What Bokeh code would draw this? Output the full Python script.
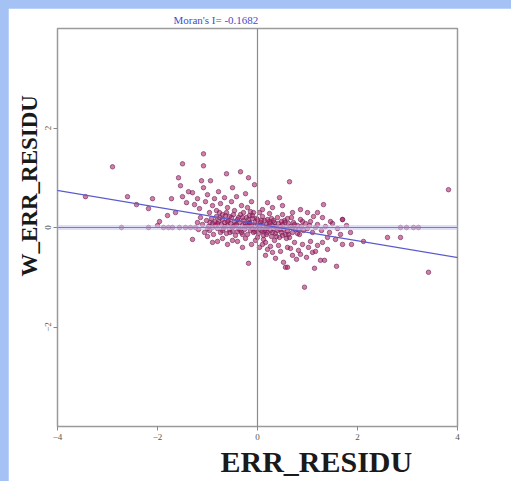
from bokeh.plotting import figure
from bokeh.models import Title, Span, Slope, FixedTicker, Range1d
from bokeh.embed import file_html
from bokeh.resources import INLINE

moran_i = -0.1682
intercept = 0.07

pts = [
    # upper-left scatter
    (-1.58,1.0),(-1.54,0.84),(-1.5,0.62),(-1.42,0.5),(-1.38,0.72),(-1.3,0.7),(-1.26,0.46),(-1.2,0.58),
    (-1.16,0.38),(-1.12,0.94),(-1.08,0.8),(-1.04,0.52),(-1.0,0.66),(-0.96,0.3),(-0.94,0.94),(-0.9,0.44),
    (-0.86,0.58),(-0.82,0.34),(-0.78,0.72),(-0.74,0.48),(-0.7,0.26),(-0.66,0.6),(-0.62,1.08),(-0.6,0.4),
    (-0.56,0.22),(-0.52,0.52),(-0.5,0.8),(-0.46,0.34),(-0.42,0.62),(-0.38,0.2),(-0.34,1.12),(-0.32,0.44),
    (-0.28,0.3),(-0.24,0.68),(-0.2,0.4),(-0.18,1.0),(-0.16,0.24),(-0.12,0.52),(-0.08,0.3),(-0.06,0.86),(-0.02,0.18),
    # core cluster
    (-1.2,0.1),(-1.18,-0.04),(-1.14,0.2),(-1.1,0.06),(-1.06,-0.1),(-1.02,0.14),(-0.98,0.02),(-0.96,-0.06),
    (-0.92,0.18),(-0.9,0.08),(-0.88,-0.14),(-0.84,0.04),(-0.82,0.22),(-0.8,-0.02),(-0.78,0.12),(-0.76,0.3),
    (-0.74,-0.1),(-0.72,0.06),(-0.7,0.16),(-0.68,-0.02),(-0.66,0.1),(-0.64,0.24),(-0.62,-0.12),(-0.6,0.04),
    (-0.58,0.14),(-0.56,-0.04),(-0.54,0.08),(-0.52,0.2),(-0.5,-0.08),(-0.48,0.02),(-0.46,0.12),(-0.44,-0.16),
    (-0.42,0.06),(-0.4,0.16),(-0.38,-0.02),(-0.36,0.1),(-0.34,0.26),(-0.32,-0.1),(-0.3,0.04),(-0.28,0.14),
    (-0.26,-0.04),(-0.24,0.08),(-0.22,0.2),(-0.2,-0.14),(-0.18,0.0),(-0.16,0.1),(-0.14,-0.06),(-0.12,0.04),
    (-0.1,0.18),(-0.08,-0.1),(-0.06,0.02),(-0.04,0.12),(-0.02,-0.04),(0.0,0.06),(0.02,-0.12),(0.04,0.0),
    (0.06,0.1),(0.08,-0.06),(0.1,0.04),(0.12,-0.16),(0.14,0.14),(0.16,-0.02),(0.18,0.06),(0.2,-0.1),
    (0.22,0.02),(0.24,0.12),(0.26,-0.06),(0.28,-0.18),(0.3,0.04),(0.32,-0.02),(0.34,0.1),(0.36,-0.12),
    (0.38,0.0),(0.4,-0.06),(0.42,0.08),(0.44,-0.2),(0.46,0.02),(0.48,-0.1),(0.5,0.06),(0.52,-0.04),
    (0.54,0.14),(0.56,-0.14),(0.58,0.0),(0.6,-0.08),(0.62,0.08),(0.64,-0.2),(0.66,0.02),(0.7,-0.1),
    (0.72,0.1),(0.76,-0.04),(0.8,0.04),(0.84,-0.14),(0.88,0.02),(0.92,-0.06),(0.96,0.08),(1.0,-0.02),
    (1.04,0.04),(1.1,-0.1),(1.16,0.0),
    (-1.0,-0.02),(-0.9,0.0),(-0.8,0.08),(-0.7,-0.06),(-0.6,0.12),(-0.5,0.0),(-0.4,-0.08),(-0.3,0.2),
    (-0.2,0.06),(-0.1,-0.02),(0.0,0.16),(0.0,-0.2),(0.1,0.22),(0.1,-0.08),(0.2,0.16),(0.2,0.0),
    (0.3,-0.1),(0.4,0.2),(0.5,-0.16),(0.6,0.18),(0.7,0.0),(0.8,-0.12),(0.9,0.12),(-0.14,0.32),
    (0.04,0.3),(0.24,0.28),(-0.04,-0.26),(0.16,-0.3),(0.34,-0.26),(0.5,0.26),(0.68,0.2),(0.86,0.16),
    (1.06,0.12),(1.2,0.06),(1.28,-0.06),(1.36,0.02),(1.44,-0.1),(1.5,0.08),(1.6,-0.02),(1.7,0.16),
    (1.78,0.04),(1.66,-0.14),(1.56,-0.24),(1.4,-0.2),(1.3,0.2),
    (-0.45,0.05),(-0.35,-0.05),(-0.25,0.02),(-0.15,0.08),(-0.05,-0.08),(0.05,0.04),(0.15,-0.06),(0.25,0.08),
    (0.35,0.02),(0.45,-0.04),(0.55,0.1),(-0.55,-0.1),(-0.65,0.02),(-0.75,0.2),(-0.85,0.12),(-0.95,0.1),
    (-0.3,-0.14),(-0.1,0.24),(0.08,0.14),(0.18,-0.14),(0.28,0.18),(0.38,-0.18),(0.48,0.12),(0.58,-0.22),
    (-0.62,0.3),(-0.48,0.26),(-0.18,0.16),(0.12,-0.24),(0.32,0.14),(0.62,-0.14),(0.74,0.06),(0.82,-0.04),
    # lower-right
    (0.04,-0.4),(0.1,-0.34),(0.16,-0.56),(0.2,-0.44),(0.26,-0.38),(0.3,-0.5),(0.36,-0.62),(0.42,-0.36),
    (0.46,-0.48),(0.52,-0.7),(0.56,-0.8),(0.6,-0.8),(0.6,-0.4),(0.66,-0.42),(0.7,-0.56),(0.74,-0.3),
    (0.78,-0.64),(0.82,-0.46),(0.86,-0.54),(0.9,-0.34),(0.94,-1.2),(0.98,-0.6),(1.02,-0.4),(1.06,-0.28),
    (1.1,-0.5),(1.14,-0.82),(1.16,-0.48),(1.2,-0.36),(1.26,-0.66),(1.3,-0.3),(1.34,-0.66),(1.4,-0.44),
    (1.58,-0.78),(1.7,-0.34),(1.86,-0.1),(1.88,-0.34),(2.12,-0.28),(2.6,-0.2),(2.86,-0.2),(3.42,-0.9),
    # upper-right
    (0.64,0.92),(1.32,0.46),(1.12,0.22),(1.7,0.16),(0.3,0.4),(0.5,0.44),(0.86,0.36),(0.2,0.5),
    (0.1,0.36),(1.0,0.3),(0.44,0.6),(0.7,0.3),(3.82,0.76),(1.46,0.12),(1.2,0.3),
    # lower-left
    (-1.3,-0.24),(-0.18,-0.72),(-0.9,-0.3),(-0.6,-0.34),(-0.4,-0.28),(-0.7,-0.22),(-1.0,-0.18),
    (-0.3,-0.4),(-0.5,-0.26),(-0.12,-0.34),(-0.8,-0.28),(-0.24,-0.22),
    # left outliers
    (-2.9,1.22),(-3.44,0.62),(-2.6,0.62),(-2.42,0.46),(-2.1,0.58),(-2.18,0.38),(-1.72,0.58),(-1.5,1.28),
    (-1.08,1.48),(-1.08,1.24),(-1.8,0.24),(-1.64,0.3),(-1.96,0.12),(-2.0,0.04),
    # zero row
    (-2.72,0.0),(-2.18,0.0),(-1.88,0.0),(-1.78,0.0),(-1.7,0.0),(-1.56,0.0),(-1.44,0.0),(-1.34,0.0),
    (-1.24,0.0),(2.86,0.0),(2.98,0.0),(3.12,0.0),(3.22,0.0),
]
err_residu = [a for a, b in pts]
w_err_residu = [b for a, b in pts]

x_ticks = [-4, -2, 0, 2, 4]
y_ticks = [-2, 0, 2]

p = figure(width=503, height=473, output_backend="svg", toolbar_location=None,
           x_range=Range1d(-4, 4), y_range=Range1d(-4, 4),
           min_border_left=49, min_border_right=54, min_border_top=20, min_border_bottom=55,
           background_fill_color="white", border_fill_color="white")
p.title = Title(text="Moran's I= -0.1682", align="left", offset=116,
                text_font_size="11px", text_color="#4a4acc", text_font="Liberation Serif",
                text_font_style="normal", standoff=6)
p.grid.visible = False
p.outline_line_color = "#9a9a9a"
p.outline_line_width = 1.5

for ax in (p.xaxis[0], p.yaxis[0]):
    ax.axis_line_color = None
    ax.major_tick_line_color = "#888888"
    ax.major_tick_out = 4
    ax.major_tick_in = 0
    ax.minor_tick_line_color = None
    ax.major_label_text_font = "Liberation Serif"
    ax.major_label_text_font_size = "9px"
    ax.major_label_text_color = "#555555"
    ax.major_label_standoff = 3
p.xaxis[0].ticker = FixedTicker(ticks=x_ticks)
p.yaxis[0].ticker = FixedTicker(ticks=y_ticks)
p.yaxis[0].major_label_orientation = "vertical"

p.add_layout(Span(location=0, dimension="width", line_color="#c8c8f2", line_width=5, line_alpha=0.6))
p.add_layout(Span(location=0, dimension="width", line_color="#7a7ac4", line_width=1))
p.add_layout(Span(location=0, dimension="height", line_color="#8a8a8a", line_width=1.2))
p.add_layout(Slope(gradient=moran_i, y_intercept=intercept, line_color="#5a5acc", line_width=1.2))

p.scatter(err_residu, w_err_residu, marker="circle", size=4.5,
          fill_color="#b0145e", fill_alpha=0.55, line_color="#6a2a5a", line_alpha=0.8, line_width=0.8)

p.add_layout(Title(text="ERR_RESIDU", align="left", offset=163, text_font_size="30px",
                   text_font="Liberation Serif", text_font_style="bold", text_color="#1a1a1a",
                   standoff=0), "below")
p.add_layout(Title(text="W_ERR_RESIDU", align="left", offset=150, text_font_size="23px",
                   text_font="Liberation Serif", text_font_style="bold", text_color="#1a1a1a",
                   standoff=0), "left")

html = file_html(p, INLINE)
css = ("<style>html { background-color: #a4c2f4 !important; padding: 0 !important; } "
       "body { background-color: #a4c2f4 !important; margin: 0 !important; "
       "padding: 8px 0 0 8px !important; }</style>")
html = html.replace("</head>", css + "</head>", 1)
open("out.html", "w").write(html)
